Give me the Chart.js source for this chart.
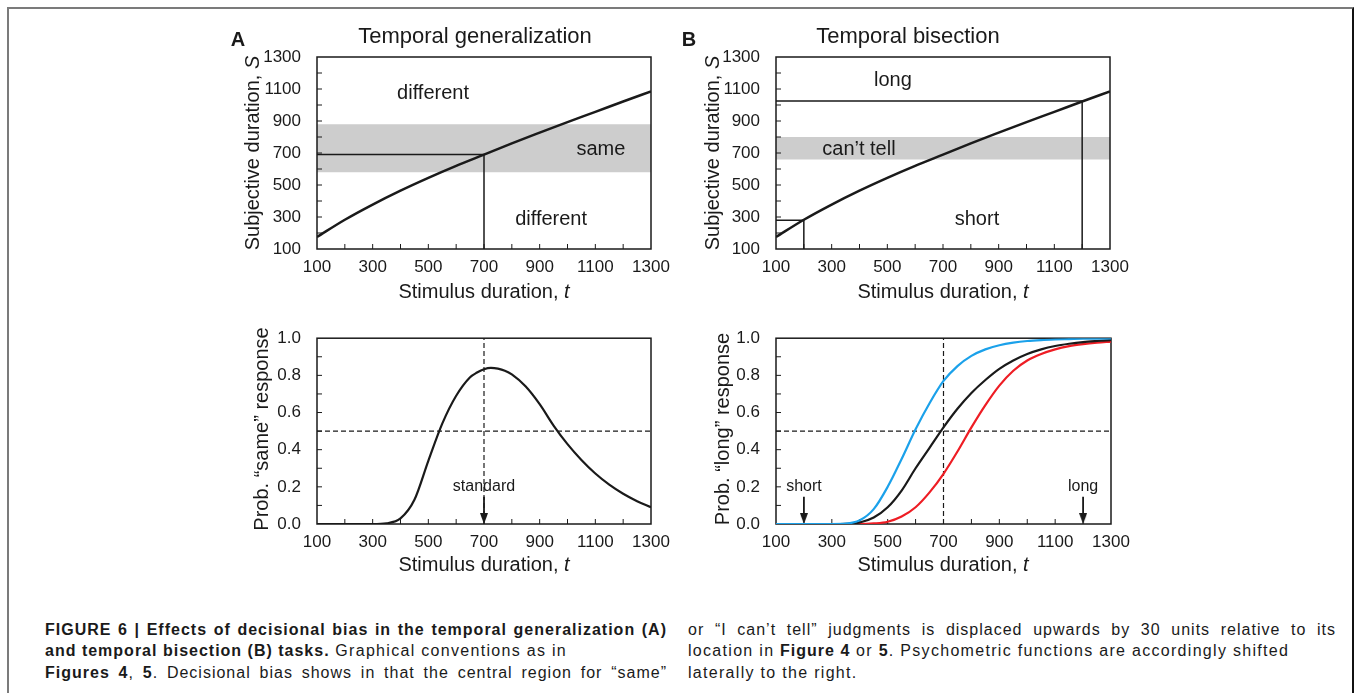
<!DOCTYPE html>
<html lang="en">
<head>
<meta charset="utf-8">
<title>Figure 6 - decisional bias</title>
<script src="https://cdn.jsdelivr.net/npm/chart.js"></script>
<style>
  body { margin:0; width:1354px; height:693px; overflow:hidden; background:#fff;
         font-family:"Liberation Sans", Arial, sans-serif; color:#1a1a1a; position:relative; }
  #frame { position:absolute; left:7px; top:7px; width:1343px; height:720px;
           border-top:2px solid #7b7b7b; border-left:2px solid #7b7b7b; border-right:2px solid #111; }
  canvas { position:absolute; }
  .txt { position:absolute; white-space:nowrap; transform:translate(-50%,-50%); }
  .title { font-size:22px; }
  .letter { font-size:20px; font-weight:bold; }
  .axt { font-size:20px; }
  .rot { transform:translate(-50%,-50%) rotate(-90deg); }
  .cap { position:absolute; font-size:16px; line-height:20px; white-space:nowrap; letter-spacing:1.3px; }
  .just { text-align:justify; text-align-last:justify; letter-spacing:1px; }
</style>
</head>
<body>
<div id="frame"></div>

<canvas id="a1" width="450" height="290" style="left:220px;top:20px"></canvas>
<canvas id="b1" width="450" height="290" style="left:690px;top:20px"></canvas>
<canvas id="a2" width="450" height="270" style="left:220px;top:320px"></canvas>
<canvas id="b2" width="450" height="270" style="left:690px;top:320px"></canvas>

<div class="txt letter" style="left:238px;top:39px">A</div>
<div class="txt title" style="left:475px;top:36px">Temporal generalization</div>
<div class="txt letter" style="left:689px;top:39px">B</div>
<div class="txt title" style="left:908px;top:36px">Temporal bisection</div>

<div class="txt axt" style="left:484px;top:291px">Stimulus duration, <i>t</i></div>
<div class="txt axt" style="left:943px;top:291px">Stimulus duration, <i>t</i></div>
<div class="txt axt" style="left:484px;top:564px">Stimulus duration, <i>t</i></div>
<div class="txt axt" style="left:943px;top:564px">Stimulus duration, <i>t</i></div>

<div class="txt axt rot" style="left:252px;top:153px">Subjective duration, <i>S</i></div>
<div class="txt axt rot" style="left:712px;top:153px">Subjective duration, <i>S</i></div>
<div class="txt axt rot" style="left:261px;top:429px">Prob. “same” response</div>
<div class="txt axt rot" style="left:722px;top:429px">Prob. “long” response</div>

<div class="cap just" style="left:45px;top:620px;width:622px"><b>FIGURE 6 | Effects of decisional bias in the temporal generalization (A)</b></div>
<div class="cap" style="left:45px;top:641px"><b style="letter-spacing:1px">and temporal bisection (B) tasks.</b> Graphical conventions as in</div>
<div class="cap just" style="left:45px;top:663px;width:622px"><b>Figures 4</b>, <b>5</b>. Decisional bias shows in that the central region for “same”</div>
<div class="cap just" style="left:688px;top:620px;width:648px">or “I can’t tell” judgments is displaced upwards by 30 units relative to its</div>
<div class="cap" style="left:688px;top:641px">location in <b style="letter-spacing:1px">Figure 4</b> or <b>5</b>. Psychometric functions are accordingly shifted</div>
<div class="cap" style="left:688px;top:663px">laterally to the right.</div>

<script>
// top row: subjective duration S as a function of stimulus duration t
const tSteps = [100, 200, 300, 400, 500, 600, 700, 800, 900, 1000, 1100, 1200, 1300];
const subjective = [175, 283, 378, 465, 545, 620, 690, 760, 827, 893, 957, 1022, 1085];
const sameBand = [580, 880];
const cantTellBand = [660, 800];
const guideStandard = [[100, 690], [700, 690], [700, 100]];
const guideLong = [[100, 1025], [1200, 1025], [1200, 100]];
const guideShort = [[100, 280], [200, 280], [200, 100]];

// bottom row: response probabilities
const tSame = [100, 200, 300, 350, 400, 450, 500, 550, 600, 650, 675, 700, 725, 750, 775,
               800, 850, 900, 950, 1000, 1050, 1100, 1150, 1200, 1250, 1300];
const probSame = [0, 0, 0, 0.004, 0.03, 0.13, 0.34, 0.54, 0.69, 0.79, 0.815, 0.833, 0.840, 0.836, 0.825,
                  0.805, 0.74, 0.645, 0.53, 0.43, 0.345, 0.272, 0.212, 0.163, 0.123, 0.09];
const tProb = [100, 150, 200, 250, 300, 350, 400, 450, 500, 550, 600, 650, 700,
               750, 800, 850, 900, 950, 1000, 1050, 1100, 1150, 1200, 1250, 1300];
const probLong = [0, 0, 0, 0, 0, 0.001, 0.008, 0.035, 0.09, 0.18, 0.30, 0.41, 0.52,
                  0.62, 0.705, 0.775, 0.835, 0.88, 0.915, 0.94, 0.958, 0.97, 0.979, 0.985, 0.99];
const probLongBlue = [0, 0, 0, 0, 0, 0.002, 0.02, 0.08, 0.20, 0.35, 0.51, 0.65, 0.77,
                      0.85, 0.905, 0.94, 0.962, 0.976, 0.985, 0.99, 0.993, 0.995, 0.997, 0.998, 0.999];
const probLongRed = [0, 0, 0, 0, 0, 0, 0, 0.003, 0.012, 0.04, 0.09, 0.17, 0.27,
                     0.39, 0.52, 0.64, 0.745, 0.825, 0.88, 0.915, 0.94, 0.957, 0.968, 0.976, 0.982];

// ticks
const tTicks = [100, 300, 500, 700, 900, 1100, 1300];
const sTicks = [100, 300, 500, 700, 900, 1100, 1300];
const pTicks = [0, 0.2, 0.4, 0.6, 0.8, 1.0];
const minorT = [200, 300, 400, 500, 600, 700, 800, 900, 1000, 1100, 1200];
const minorS = [200, 300, 400, 500, 600, 700, 800, 900, 1000, 1100, 1200];
const minorP = [0.1, 0.2, 0.3, 0.4, 0.5, 0.6, 0.7, 0.8, 0.9];

const FONT = '"Liberation Sans", Arial, sans-serif';
const INK = '#1a1a1a';
const BLUE = '#1ba1ea';
const RED = '#ee1d24';

const pts = (xs, ys) => xs.map((x, i) => ({ x: x, y: ys[i] }));
const pairs = arr => arr.map(p => ({ x: p[0], y: p[1] }));

function arrowHead() {
  const c = document.createElement('canvas');
  c.width = 8; c.height = 11;
  const g = c.getContext('2d');
  g.fillStyle = INK;
  g.beginPath(); g.moveTo(0, 0); g.lineTo(8, 0); g.lineTo(4, 11); g.closePath(); g.fill();
  return c;
}
const HEAD = arrowHead();

function curve(data, color, width) {
  return { data: data, borderColor: color, borderWidth: width || 2.5, pointRadius: 0,
           cubicInterpolationMode: 'monotone', fill: false };
}
function guide(data, dash) {
  return { data: data, borderColor: INK, borderWidth: dash ? 1.2 : 1.5, borderDash: dash ? [5, 3] : [],
           pointRadius: 0, tension: 0, fill: false };
}
function band(lo, hi) {
  return { data: [{ x: 100, y: hi }, { x: 1300, y: hi }], borderWidth: 0, pointRadius: 0,
           backgroundColor: '#cdcdcd', fill: { value: lo } };
}
function arrow(t) {
  return { data: [{ x: t, y: 0.147 }, { x: t, y: 0.029 }], borderColor: INK, borderWidth: 1.8,
           pointRadius: [0, 5], pointStyle: HEAD, fill: false };
}

// frame + inward minor ticks
function framePlugin(xm, ym, under) {
  function draw(chart) {
    const { ctx, chartArea: a, scales: { x, y } } = chart;
    ctx.save();
    ctx.strokeStyle = INK;
    ctx.lineWidth = 1;
    ctx.beginPath();
    xm.forEach(v => { const px = x.getPixelForValue(v); ctx.moveTo(px, a.bottom); ctx.lineTo(px, a.bottom - 5); });
    ym.forEach(v => { const py = y.getPixelForValue(v); ctx.moveTo(a.left, py); ctx.lineTo(a.left + 5, py); });
    ctx.stroke();
    ctx.lineWidth = 1.5;
    ctx.strokeRect(a.left, a.top, a.right - a.left, a.bottom - a.top);
    ctx.restore();
  }
  return {
    id: 'frame',
    beforeDatasetsDraw(chart) { if (under) draw(chart); },
    afterDatasetsDraw(chart) { if (!under) draw(chart); }
  };
}

function notesPlugin(notes) {
  return {
    id: 'notes',
    afterDatasetsDraw(chart) {
      const { ctx, scales: { x, y } } = chart;
      ctx.save();
      ctx.fillStyle = INK;
      ctx.textAlign = 'center';
      ctx.textBaseline = 'middle';
      notes.forEach(n => {
        ctx.font = n.size + 'px ' + FONT;
        ctx.fillText(n.text, x.getPixelForValue(n.x), y.getPixelForValue(n.y));
      });
      ctx.restore();
    }
  };
}

function makeChart(id, c) {
  const tickFont = { family: FONT, size: 17 };
  return new Chart(document.getElementById(id), {
    type: 'line',
    data: { datasets: c.datasets },
    options: {
      responsive: false,
      animation: false,
      events: [],
      layout: { padding: { left: 0, top: c.top, right: c.right, bottom: 0 } },
      plugins: { legend: { display: false }, tooltip: { enabled: false } },
      scales: {
        x: {
          type: 'linear', min: 100, max: 1300,
          afterBuildTicks: s => { s.ticks = tTicks.map(v => ({ value: v })); },
          afterFit: s => { s.height = c.xh; },
          ticks: { font: tickFont, color: INK, padding: 0, maxRotation: 0, autoSkip: false,
                   callback: v => String(v) },
          grid: { display: false }, border: { display: false }
        },
        y: {
          type: 'linear', min: c.ymin, max: c.ymax,
          afterBuildTicks: s => { s.ticks = c.yticks.map(v => ({ value: v })); },
          afterFit: s => { s.width = c.yw; },
          ticks: { font: tickFont, color: INK, padding: 8, autoSkip: false,
                   callback: c.fmt || (v => String(v)) },
          grid: { display: false }, border: { display: false }
        }
      }
    },
    plugins: [framePlugin(minorT, c.minorY, c.under), notesPlugin(c.notes || [])]
  });
}

makeChart('a1', {
  top: 37, right: 19, yw: 97, xh: 61, ymin: 100, ymax: 1300, yticks: sTicks, minorY: minorS,
  datasets: [
    curve(pts(tSteps, subjective), INK, 2.5),
    guide(pairs(guideStandard)),
    band(sameBand[0], sameBand[1])
  ],
  notes: [
    { text: 'different', x: 517, y: 1075, size: 20 },
    { text: 'same', x: 1120, y: 725, size: 20 },
    { text: 'different', x: 941, y: 287, size: 20 }
  ]
});

makeChart('b1', {
  top: 37, right: 30, yw: 86, xh: 61, ymin: 100, ymax: 1300, yticks: sTicks, minorY: minorS,
  datasets: [
    curve(pts(tSteps, subjective), INK, 2.5),
    guide(pairs(guideLong)),
    guide(pairs(guideShort)),
    band(cantTellBand[0], cantTellBand[1])
  ],
  notes: [
    { text: 'long', x: 520, y: 1156, size: 20 },
    { text: 'can’t tell', x: 398, y: 725, size: 20 },
    { text: 'short', x: 822, y: 287, size: 20 }
  ]
});

makeChart('a2', {
  top: 13, right: 19, yw: 97, xh: 66, ymin: 0, ymax: 1, yticks: pTicks, minorY: minorP,
  fmt: v => v.toFixed(1),
  datasets: [
    curve(pts(tSame, probSame), INK, 2.2),
    arrow(700),
    guide([{ x: 700, y: 0 }, { x: 700, y: 1 }], true),
    guide([{ x: 100, y: 0.5 }, { x: 1300, y: 0.5 }], true)
  ],
  notes: [{ text: 'standard', x: 700, y: 0.2, size: 16 }]
});

makeChart('b2', {
  top: 13, right: 29, yw: 86, xh: 66, ymin: 0, ymax: 1, yticks: pTicks, minorY: minorP,
  fmt: v => v.toFixed(1), under: true,
  datasets: [
    curve(pts(tProb, probLongBlue), BLUE, 2.2),
    curve(pts(tProb, probLong), INK, 2.2),
    curve(pts(tProb, probLongRed), RED, 2.2),
    arrow(200),
    arrow(1200),
    guide([{ x: 700, y: 0 }, { x: 700, y: 1 }], true),
    guide([{ x: 100, y: 0.5 }, { x: 1300, y: 0.5 }], true)
  ],
  notes: [
    { text: 'short', x: 200, y: 0.2, size: 16 },
    { text: 'long', x: 1200, y: 0.2, size: 16 }
  ]
});
</script>
</body>
</html>
